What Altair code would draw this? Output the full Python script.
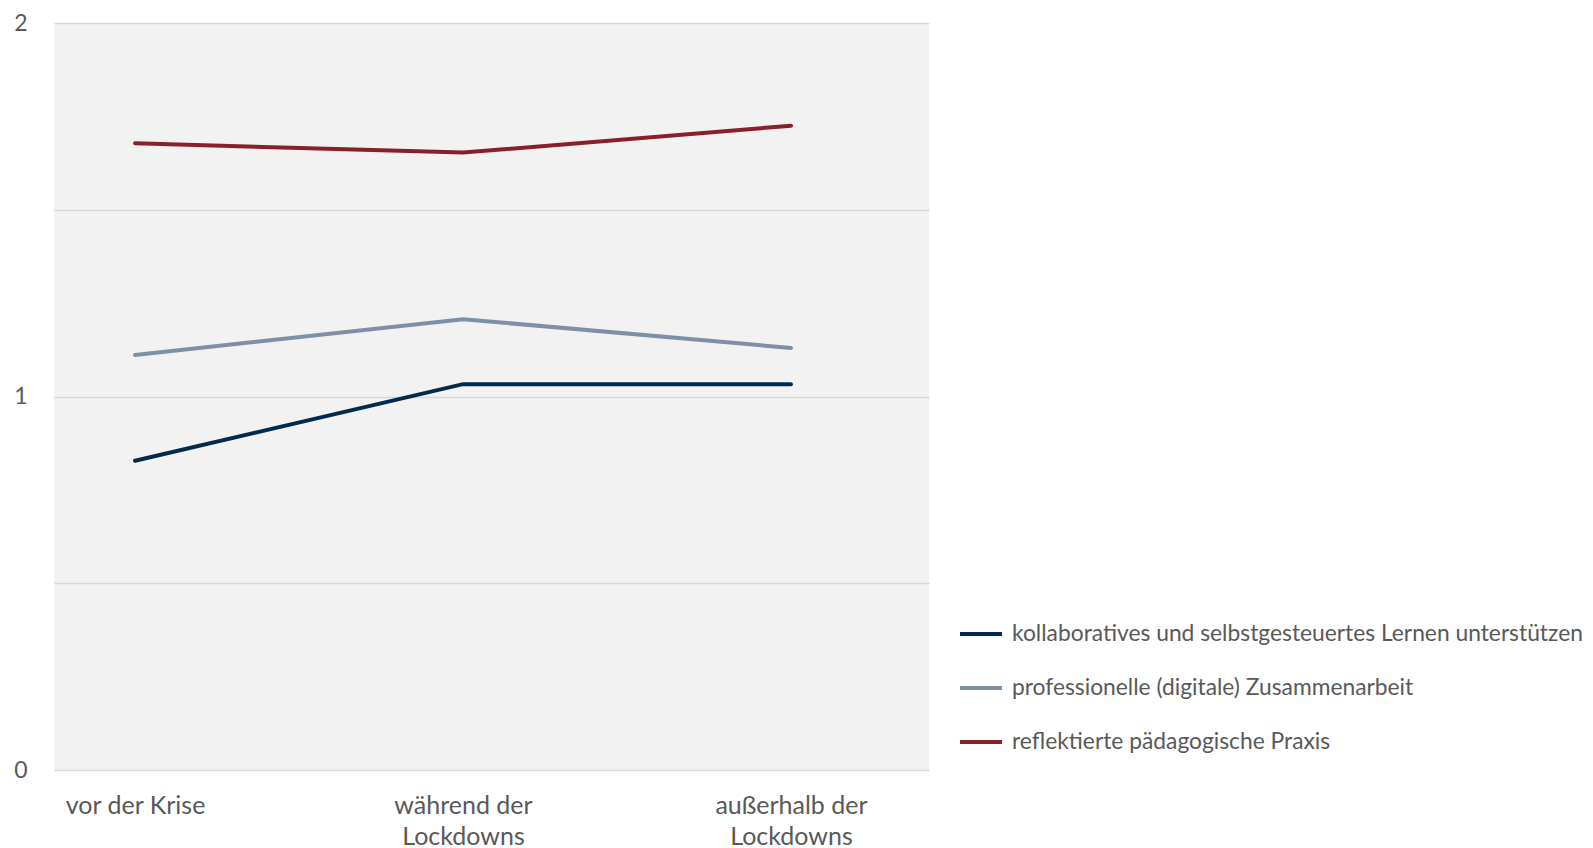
import altair as alt
import pandas as pd

categories = ["vor der Krise", "während der\nLockdowns", "außerhalb der\nLockdowns"]
series = [
    "kollaboratives und selbstgesteuertes Lernen unterstützen",
    "professionelle (digitale) Zusammenarbeit",
    "reflektierte pädagogische Praxis",
]
kollaborativ = [0.828, 1.033, 1.033]
professionell = [1.111, 1.207, 1.130]
reflektiert = [1.678, 1.653, 1.725]
colors = ["#002b4f", "#7f8faa", "#8a1f2c"]

rows = []
for name, vals in zip(series, [kollaborativ, professionell, reflektiert]):
    for c, v in zip(categories, vals):
        rows.append({"Zeitpunkt": c, "Reihe": name, "Wert": v})
df = pd.DataFrame(rows)

FONT = "Lato"
TXT = "#595959"

chart = alt.Chart(df).mark_line(strokeWidth=4, strokeCap="round").encode(
    x=alt.X("Zeitpunkt:N", sort=categories,
            scale=alt.Scale(type="point", padding=0.334, align=0.37),
            axis=alt.Axis(title=None, domain=False, ticks=False, grid=False,
                          labelAngle=0, labelPadding=35, labelFontSize=25,
                          labelLineHeight=31, labelColor=TXT, labelFont=FONT,
                          labelExpr="split(datum.label, '\\n')", labelBaseline="middle")),
    y=alt.Y("Wert:Q", scale=alt.Scale(domain=[0, 2], nice=False),
            axis=alt.Axis(title=None, domain=False, ticks=False,
                          values=[0, 0.5, 1, 1.5, 2],
                          labelExpr="datum.value % 1 == 0 ? format(datum.value, 'd') : ''",
                          labelPadding=27, labelFontSize=23, labelColor=TXT, labelFont=FONT,
                          gridColor="#d9d9d9", gridWidth=1.5)),
    color=alt.Color("Reihe:N", sort=series,
                    scale=alt.Scale(domain=series, range=colors),
                    legend=alt.Legend(title=None, orient="none", legendX=904, legendY=588,
                                      symbolType="stroke", symbolStrokeWidth=4,
                                      symbolSize=1764, rowPadding=19,
                                      labelFontSize=22.8, labelColor=TXT, labelFont=FONT,
                                      labelOffset=8, labelLimit=700)),
).properties(
    width=875, height=747,
    autosize=alt.AutoSizeParams(type="none"),
    padding={"left": 46, "top": 15, "right": 656, "bottom": 100},
).configure(background="white").configure_view(fill="#f2f2f2", strokeWidth=0, stroke="transparent")

chart.save("out.html", embed_options={"renderer": "svg", "actions": False})
